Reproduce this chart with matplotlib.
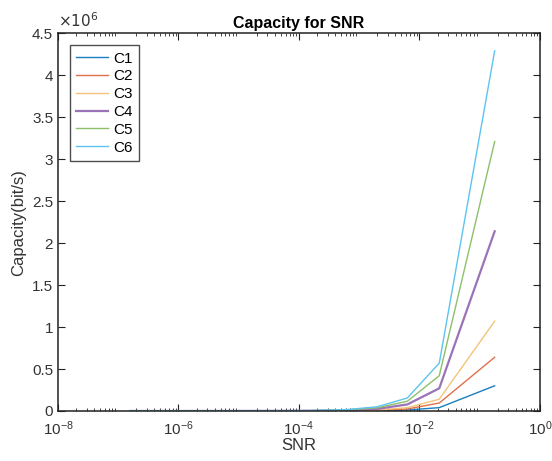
import numpy as np
import matplotlib
matplotlib.use("Agg")
import matplotlib.pyplot as plt
from matplotlib.ticker import LogLocator, FixedLocator, NullFormatter, FuncFormatter

plt.rcParams['font.family'] = ['Liberation Sans', 'DejaVu Sans']

snr = [10**-6.8, 10**-5.8, 10**-4.8, 10**-3.8, 10**-3.2, 10**-2.7, 10**-2.2, 10**-1.67, 10**-0.75]
C1 = [0.000003, 0.00002, 0.0001, 0.0004, 0.0012, 0.0035, 0.011, 0.04, 0.30]
C2 = [0.00001, 0.00005, 0.00024, 0.0008, 0.0026, 0.0075, 0.024, 0.095, 0.64]
C3 = [0.00001, 0.00008, 0.0004, 0.0013, 0.0042, 0.012, 0.039, 0.14, 1.07]
C4 = [0.00002, 0.00015, 0.0008, 0.0025, 0.0085, 0.025, 0.078, 0.27, 2.14]
C5 = [0.00002, 0.0002, 0.0011, 0.0038, 0.013, 0.038, 0.116, 0.42, 3.21]
C6 = [0.00003, 0.0003, 0.0015, 0.005, 0.017, 0.05, 0.155, 0.57, 4.29]
series = [C1, C2, C3, C4, C5, C6]
labels = ['C1', 'C2', 'C3', 'C4', 'C5', 'C6']
colors = ['#1a7fc0', '#e0704a', '#f2c47a', '#9a73b8', '#8cc06a', '#5cc4ef']
widths = [1.0, 1.0, 1.0, 1.6, 1.0, 1.0]

fig = plt.figure(figsize=(5.52, 4.61), dpi=100)
ax = fig.add_axes([0.105, 0.1085, 0.873, 0.8195])
for s, lab, c, w in zip(series, labels, colors, widths):
    ax.plot(snr, np.array(s) * 1e6, color=c, lw=w, label=lab)

ax.set_xscale('log')
ax.set_xlim(1e-8, 1)
ax.set_ylim(0, 4.5e6)
ax.xaxis.set_major_locator(FixedLocator([1e-8, 1e-6, 1e-4, 1e-2, 1]))
ax.xaxis.set_minor_locator(LogLocator(base=10, subs=np.arange(2, 10), numticks=20))
ax.xaxis.set_minor_formatter(NullFormatter())
ax.set_yticks(np.arange(0, 4.51e6, 0.5e6))
ax.yaxis.set_major_formatter(FuncFormatter(lambda v, p: f'{v/1e6:g}'))
ax.tick_params(direction='in', which='both', top=True, right=True, labelsize=11,
               colors='#222222', labelcolor='#333333')
ax.tick_params(which='major', length=5)
ax.tick_params(which='minor', length=2.5)
ax.tick_params(axis='x', pad=6)
ax.text(0.0, 1.008, r'$\times10^{6}$', transform=ax.transAxes, fontsize=11,
        color='#333333', ha='left', va='bottom')
for sp in ax.spines.values():
    sp.set_linewidth(1.1)
    sp.set_color('#222222')

ax.set_title('Capacity for SNR', fontsize=11.5, fontweight='bold', pad=4)
ax.set_xlabel('SNR', fontsize=12, labelpad=0, color='#333333')
ax.set_ylabel('Capacity(bit/s)', fontsize=12, labelpad=4, color='#333333')
leg = ax.legend(loc='upper left', fontsize=11, fancybox=False, edgecolor='#222222',
                handlelength=2.1, handletextpad=0.3, borderaxespad=0.8, labelspacing=0.25)
leg.get_frame().set_linewidth(1.0)

fig.savefig('out.png', dpi=100, facecolor='white')
